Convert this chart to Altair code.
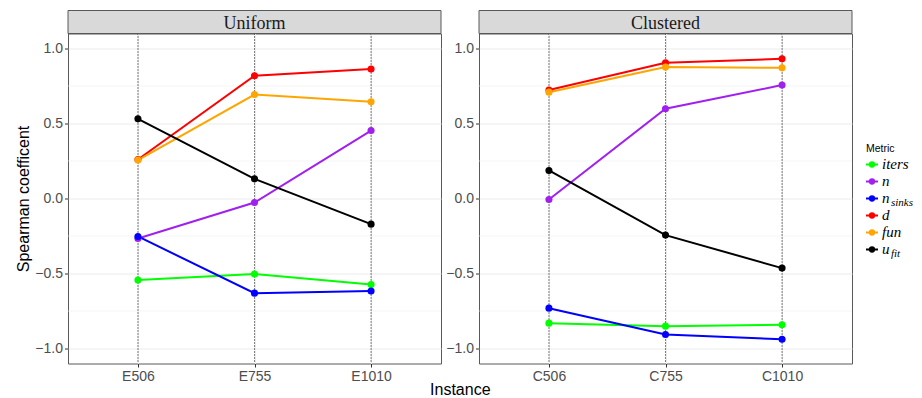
import altair as alt
import pandas as pd

# ---------------- data ----------------
panels = ["Uniform", "Clustered"]
instances_uniform = ["E506", "E755", "E1010"]
instances_clustered = ["C506", "C755", "C1010"]
metrics = ["iters", "n", "n_sinks", "d", "fun", "u_fit"]
metric_main = ["iters", "n", "n", "d", "fun", "u"]
metric_sub = ["", "", "sinks", "", "", "fit"]
metric_colors = ["#00FF00", "#A020F0", "#0000FF", "#FF0000", "#FFA500", "#000000"]

uniform_iters = [-0.544, -0.504, -0.573]
uniform_n = [-0.267, -0.027, 0.453]
uniform_n_sinks = [-0.253, -0.631, -0.617]
uniform_d = [0.260, 0.818, 0.863]
uniform_fun = [0.256, 0.693, 0.645]
uniform_u_fit = [0.531, 0.131, -0.171]

clustered_iters = [-0.831, -0.851, -0.842]
clustered_n = [-0.007, 0.598, 0.756]
clustered_n_sinks = [-0.731, -0.907, -0.938]
clustered_d = [0.723, 0.905, 0.931]
clustered_fun = [0.709, 0.876, 0.871]
clustered_u_fit = [0.187, -0.244, -0.464]

y_major = [-1.0, -0.5, 0.0, 0.5, 1.0]
y_minor = [-0.75, -0.25, 0.25, 0.75]
y_limits = [-1.1, 1.1]
legend_title = "Metric"
x_title = "Instance"
y_title = "Spearman coefficent"

W, H = 373, 330
SANS = "Liberation Sans"
SERIF = "Liberation Serif"
BORDER = "#595959"

cscale = alt.Scale(domain=metrics, range=metric_colors)
yscale = alt.Scale(domain=y_limits, nice=False, zero=False)


def long_df(instances, series):
    rows = []
    for m, vals in zip(metrics, series):
        for i, (inst, v) in enumerate(zip(instances, vals)):
            rows.append({"metric": m, "instance": inst, "step": i, "value": v})
    return pd.DataFrame(rows)


def make_panel(name, instances, series, left):
    df = long_df(instances, series)
    xaxis = alt.Axis(title=None, labelAngle=0, domain=False, tickSize=3.5,
                     tickColor="#333333", labelColor="#4D4D4D", labelFontSize=14,
                     labelPadding=2, grid=True, gridColor="#EBEBEB", gridWidth=1,
                     labelFont=SANS)
    yaxis = alt.Axis(values=y_major, format=".1f", title=y_title if left else None,
                     domain=False, tickSize=3.5, tickColor="#333333",
                     labelColor="#4D4D4D", labelFontSize=14, labelPadding=2,
                     grid=True, gridColor="#EBEBEB", gridWidth=1,
                     titleFontSize=16, titleFontWeight="normal", titleColor="black",
                     titlePadding=3, labelFont=SANS, titleFont=SANS)
    xenc = alt.X("instance:N", sort=instances,
                 scale=alt.Scale(type="point", padding=0.6), axis=xaxis)
    yenc = alt.Y("value:Q", scale=yscale, axis=yaxis)
    cenc = alt.Color("metric:N", scale=cscale, legend=None)

    minor = alt.Chart(pd.DataFrame({"value": y_minor})).mark_rule(
        color="#EFEFEF", strokeWidth=0.6).encode(y=yenc)
    vlines = alt.Chart(pd.DataFrame({"instance": instances})).mark_rule(
        color="black", strokeDash=[1, 2], strokeWidth=1).encode(x=xenc)
    lines = alt.Chart(df).mark_line(strokeWidth=2).encode(
        x=xenc, y=yenc, color=cenc, order="step:Q")
    points = alt.Chart(df).mark_circle(size=50, opacity=1).encode(
        x=xenc, y=yenc, color=cenc)
    strip_df = pd.DataFrame({"panel": [name]})
    strip = alt.Chart(strip_df).mark_rect(
        fill="#D9D9D9", stroke=BORDER, strokeWidth=1).encode(
        x=alt.value(0), x2=alt.value(W), y=alt.value(-23), y2=alt.value(0))
    strip_txt = alt.Chart(strip_df).mark_text(
        font=SERIF, fontSize=18, color="#1A1A1A", baseline="alphabetic").encode(
        x=alt.value(W / 2), y=alt.value(-5), text="panel:N")
    layers = [minor, vlines, lines, points, strip, strip_txt]
    if left:
        xt = alt.Chart(pd.DataFrame({"t": [x_title]})).mark_text(
            font=SANS, fontSize=16, color="black", baseline="alphabetic").encode(
            x=alt.value(W + 19.3), y=alt.value(361), text="t:N")
        layers.append(xt)
    inner = alt.layer(*layers)
    if left:
        return inner.properties(width=W, height=H)

    # legend drawn from the metric table via the shared color scale
    leg_df = pd.DataFrame({"metric": metrics, "main": metric_main, "sub": metric_sub})
    ly = alt.Y("metric:N", sort=metrics,
               scale=alt.Scale(type="point", range=[131, 216], padding=0), axis=None)
    lcol = alt.Color("metric:N", scale=cscale, legend=None)
    leg_line = alt.Chart(leg_df).mark_rule(strokeWidth=2).encode(
        x=alt.value(387), x2=alt.value(399), y=ly, color=lcol)
    leg_pt = alt.Chart(leg_df).mark_circle(size=40, opacity=1).encode(
        x=alt.value(393), y=ly, color=lcol)
    leg_main = alt.Chart(leg_df).mark_text(
        align="left", baseline="alphabetic", dy=4.5, font=SERIF, fontStyle="italic",
        fontSize=15, color="black").encode(x=alt.value(403), y=ly, text="main:N")
    leg_sub = alt.Chart(leg_df).transform_filter(alt.datum.sub != "").mark_text(
        align="left", baseline="alphabetic", dy=7, font=SERIF, fontStyle="italic",
        fontSize=11, color="black").encode(x=alt.value(412), y=ly, text="sub:N")
    leg_t = alt.Chart(pd.DataFrame({"t": [legend_title]})).mark_text(
        align="left", baseline="middle", font=SANS, fontSize=10.5, color="black").encode(
        x=alt.value(387), y=alt.value(115), text="t:N")
    legend = alt.layer(leg_line, leg_pt, leg_main, leg_sub, leg_t)
    return alt.layer(inner, legend).resolve_scale(y="independent").properties(
        width=W, height=H)


left = make_panel(panels[0], instances_uniform,
                  [uniform_iters, uniform_n, uniform_n_sinks, uniform_d,
                   uniform_fun, uniform_u_fit], True)
right = make_panel(panels[1], instances_clustered,
                   [clustered_iters, clustered_n, clustered_n_sinks, clustered_d,
                    clustered_fun, clustered_u_fit], False)

chart = alt.hconcat(left, right, spacing=38, bounds="flush").properties(
    padding={"left": 7, "top": 1.5, "right": 0, "bottom": 0},
    background="white",
).configure_view(stroke=BORDER, strokeWidth=1)

chart.save("out.html", embed_options={"renderer": "svg", "actions": False})
